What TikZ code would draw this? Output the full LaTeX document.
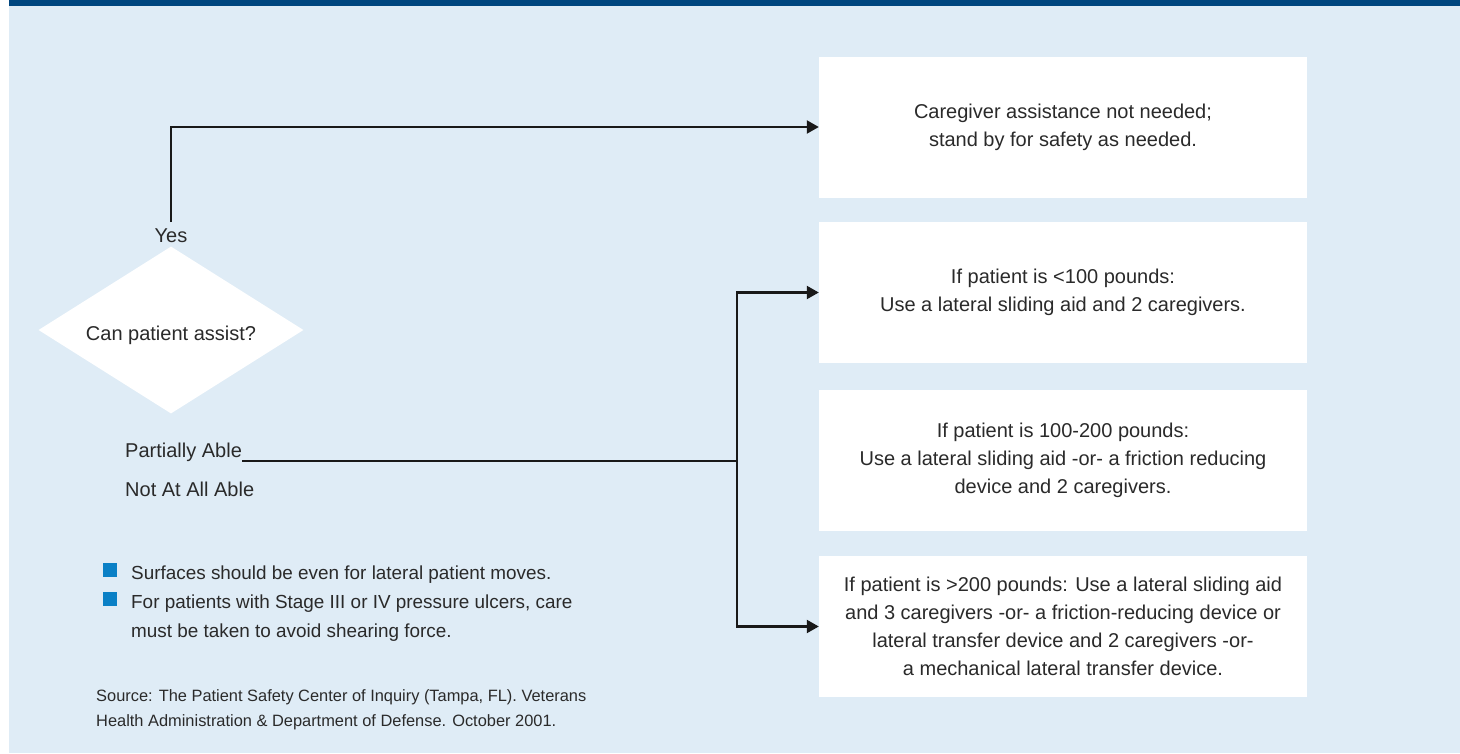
\documentclass[tikz,border=0pt]{standalone}
\usepackage{fontspec}
\setmainfont{Liberation Sans}
\usetikzlibrary{arrows.meta,shapes.geometric,positioning}
\definecolor{bandblue}{HTML}{00467F}
\definecolor{paleblue}{HTML}{DFECF6}
\definecolor{squareblue}{HTML}{0A80C6}
\definecolor{ink}{HTML}{2A2A2A}

\begin{document}
\begin{tikzpicture}[
                x = 1pt, y = -1pt,
                > = {Triangle[length=12pt, width=13pt]},
                answer/.style={ rectangle, fill = white, minimum width = 488pt, minimum height = 141pt,
                                align = center, text = ink, font = \fontsize{20}{28}\selectfont },
                question/.style={ diamond, aspect = 1.59, fill = white, minimum width = 265pt, minimum height = 167pt,
                                  inner sep = 0pt, text = ink, font = \fontsize{20}{24}\selectfont },
                label/.style={ inner sep = 0pt, text = ink, font = \fontsize{20}{24}\selectfont },
                note/.style={ inner sep = 0pt, align = left, text = ink, font = \fontsize{18.9}{29}\selectfont },
                source/.style={ inner sep = 0pt, align = left, text = ink, font = \fontsize{16.4}{25}\selectfont },
                square/.style={ rectangle, fill = squareblue, minimum size = 14pt, inner sep = 0pt },
                link/.style={ draw = black!90, line width = 2.2pt }
            ]
            \useasboundingbox (0, 0) rectangle (1460, 753);
            \fill [paleblue] (9, 0) rectangle (1460, 753);
            \fill [bandblue] (9, 0) rectangle (1460, 6);

            \node (ans1) [answer] at (1063, 127)   {Caregiver assistance not needed;\\stand by for safety as needed.};
            \node (ans2) [answer] at (1063, 292.5) {If patient is <100 pounds:\\Use a lateral sliding aid and 2 caregivers.};
            \node (ans3) [answer] at (1063, 460.5) {If patient is 100-200 pounds:\\Use a lateral sliding aid -or- a friction reducing\\device and 2 caregivers.};
            \node (ans4) [answer] at (1063, 626.5) {If patient is >200 pounds: Use a lateral sliding aid\\and 3 caregivers -or- a friction-reducing device or\\lateral transfer device and 2 caregivers -or-\\a mechanical lateral transfer device.};

            \node (assist)  [question] at (171, 330) {\raisebox{-10pt}[0pt][0pt]{Can patient assist?}};
            \node (yes)     [label, anchor = base] at (171, 242) {Yes};
            \node (partial) [label, anchor = base west] at (125, 457) {Partially Able};
            \node (notable) [label, anchor = base west] at (125, 496) {Not At All Able};
            \coordinate (split) at (737, 461);

            \draw [link, ->] ([yshift=6pt]yes.north) |- (ans1.west);
            \draw [link]     ([yshift=-4pt]partial.base east) -- (split);
            \draw [link, ->] (split) |- (ans2.west);
            \draw [link, ->] (split) |- (ans4.west);

            \node (sq1)   [square] at (110, 570) {};
            \node (sq2)   [square] at (110, 599) {};
            \node (note1) [note, anchor = north west] at (131, 566) {Surfaces should be even for lateral patient moves.};
            \node (note2) [note, anchor = north west] at (131, 595) {For patients with Stage III or IV pressure ulcers, care\\must be taken to avoid shearing force.};
            \node (src)   [source, anchor = north west] at (96, 689) {Source: The Patient Safety Center of Inquiry (Tampa, FL). Veterans\\Health Administration \& Department of Defense. October 2001.};
        \end{tikzpicture}
\end{document}
